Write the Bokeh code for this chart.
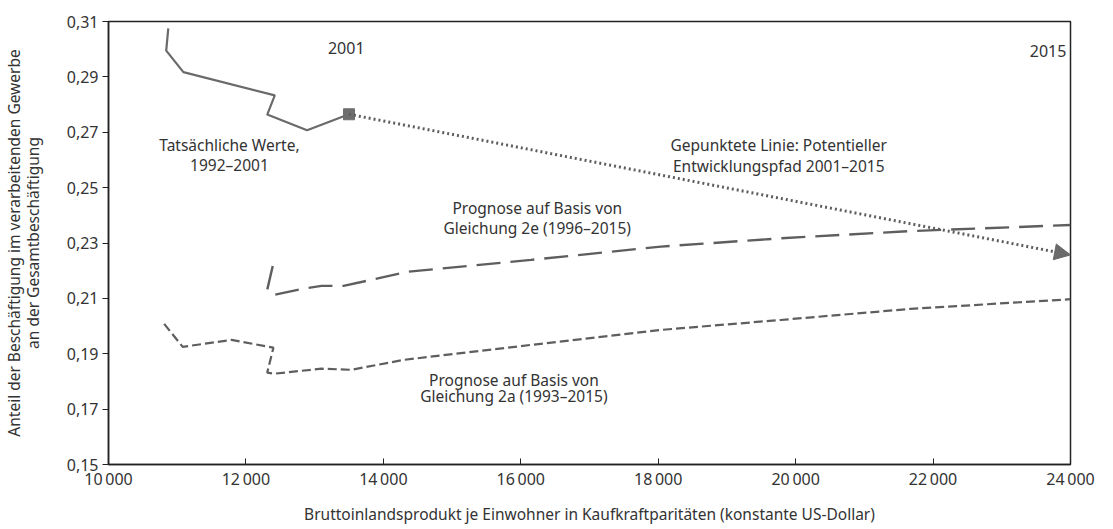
from bokeh.plotting import figure
from bokeh.models import (FixedTicker, CustomJSTickFormatter, Label, Arrow, NormalHead, Range1d)
from bokeh.embed import file_html
from bokeh.resources import INLINE

# ---- data ----
actual_x = [10870, 10840, 11090, 12420, 12310, 12890, 13500]
actual_y = [0.3075, 0.2995, 0.2917, 0.2833, 0.2764, 0.2707, 0.2765]

prog2e_x = [12390, 12310, 12420, 12810, 13100, 13420, 13750, 14350, 16150, 18040, 19780, 21670, 24000]
prog2e_y = [0.2217, 0.2131, 0.2113, 0.2134, 0.2145, 0.2145, 0.2163, 0.2196, 0.2239, 0.2287, 0.2317, 0.2343, 0.2365]

prog2a_x = [10810, 11080, 11790, 12400, 12310, 12410, 13100, 13530, 14300, 16150, 18040, 19780, 21670, 24000]
prog2a_y = [0.2008, 0.1925, 0.1950, 0.1922, 0.1832, 0.1828, 0.1846, 0.1842, 0.1878, 0.1932, 0.1986, 0.2022, 0.2062, 0.2097]

path_x = [13500, 24000]
path_y = [0.2765, 0.2257]

x_ticks = [10000, 12000, 14000, 16000, 18000, 20000, 22000, 24000]
y_ticks = [0.15, 0.17, 0.19, 0.21, 0.23, 0.25, 0.27, 0.29, 0.31]

FONT = "Noto Sans"
TXT = "#333333"
LINE = "#5e5e5e"
TS = "15.5px"

p = figure(width=1100, height=527, output_backend="svg", toolbar_location=None,
           x_range=Range1d(10000, 24000), y_range=Range1d(0.15, 0.31),
           min_border_left=107, min_border_right=30, min_border_top=21, min_border_bottom=62)
p.background_fill_color = "white"
p.border_fill_color = "white"
p.outline_line_color = "#222222"
p.outline_line_width = 1.5
p.xgrid.visible = False
p.ygrid.visible = False

# axes
p.xaxis.ticker = FixedTicker(ticks=x_ticks)
p.yaxis.ticker = FixedTicker(ticks=y_ticks)
p.xaxis.formatter = CustomJSTickFormatter(code="return Math.round(tick/1000) + '\u2009000';")
p.yaxis.formatter = CustomJSTickFormatter(code="return tick.toFixed(2).replace('.', ',');")
for ax in (p.xaxis, p.yaxis):
    ax.axis_line_color = "#222222"
    ax.axis_line_width = 1.5
    ax.major_tick_line_color = "#222222"
    ax.minor_tick_line_color = None
    ax.major_label_text_font = FONT
    ax.major_label_text_font_size = "16px"
    ax.major_label_text_color = TXT
    ax.axis_label_text_font = FONT
    ax.axis_label_text_font_size = TS
    ax.axis_label_text_font_style = "normal"
    ax.axis_label_text_color = TXT
p.xaxis.major_tick_in = 6
p.xaxis.major_tick_out = 0
p.yaxis.major_tick_in = 0
p.yaxis.major_tick_out = 6
p.xaxis.major_label_standoff = 3
p.yaxis.major_label_standoff = 4
p.xaxis.axis_label = "Bruttoinlandsprodukt je Einwohner in Kaufkraftparitäten (konstante US-Dollar)"
p.xaxis.axis_label_standoff = 10
p.yaxis.axis_label = "Anteil der Beschäftigung im verarbeitenden Gewerbe\nan der Gesamtbeschäftigung"
p.yaxis.axis_label_text_line_height = 0.85
p.yaxis.axis_label_standoff = 20

# series
p.line(prog2e_x, prog2e_y, line_color=LINE, line_width=2.4, line_dash="24 10")
p.line(prog2a_x, prog2a_y, line_color=LINE, line_width=2.2, line_dash="9 4")
p.line(actual_x, actual_y, line_color="#6a6a6a", line_width=2.2)
p.add_layout(Arrow(x_start=path_x[0], y_start=path_y[0], x_end=path_x[1], y_end=path_y[1],
                   line_color=LINE, line_width=3, line_dash="2 3",
                   end=NormalHead(size=16, fill_color="#6a6a6a", line_color="#6a6a6a")))
p.scatter([actual_x[-1]], [actual_y[-1]], marker="square", size=11,
          fill_color="#6e6e6e", line_color="#6e6e6e")

def lab(x, y, text, align="center", size=TS):
    p.add_layout(Label(x=x, y=y, text=text, text_font=FONT, text_font_size=size,
                       text_color=TXT, text_align=align, text_baseline="middle"))

lab(13460, 0.3006, "2001", size="16px")
lab(24000 - 60, 0.2995, "2015", align="right", size="16px")
lab(11760, 0.2653, "Tatsächliche Werte,")
lab(11760, 0.2581, "1992–2001")
lab(19754, 0.2653, "Gepunktete Linie: Potentieller")
lab(19754, 0.2577, "Entwicklungspfad 2001–2015")
lab(16240, 0.2426, "Prognose auf Basis von")
lab(16240, 0.2354, "Gleichung 2e (1996–2015)")
lab(15900, 0.1806, "Prognose auf Basis von")
lab(15900, 0.1746, "Gleichung 2a (1993–2015)")

open("out.html", "w").write(file_html(p, INLINE))
